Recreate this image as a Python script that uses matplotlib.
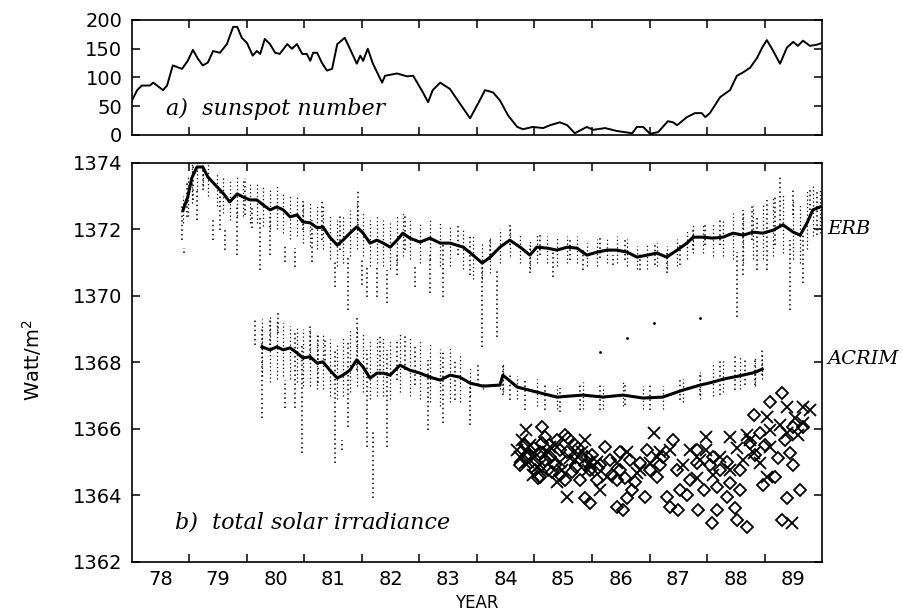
import matplotlib
matplotlib.use('Agg')
import matplotlib.pyplot as plt
import matplotlib.transforms as mtransforms

# a) sunspot number (smoothed)
ssn_year = [78.0, 78.09, 78.17, 78.31, 78.37, 78.54, 78.61, 78.71, 78.87, 78.97,
            79.06, 79.15, 79.23, 79.32, 79.41, 79.53, 79.65, 79.76, 79.83, 79.91,
            80.00, 80.10, 80.17, 80.23, 80.31, 80.40, 80.49, 80.57, 80.70, 80.78,
            80.87, 80.96, 81.04, 81.10, 81.15, 81.22, 81.30, 81.39, 81.48, 81.57,
            81.70, 81.79, 81.91, 81.97, 82.02, 82.10, 82.19, 82.35, 82.40, 82.61,
            82.78, 82.89, 83.06, 83.15, 83.23, 83.36, 83.53, 83.70, 83.88, 84.02,
            84.14, 84.28, 84.40, 84.54, 84.70, 84.80, 84.97, 85.15, 85.27, 85.44,
            85.57, 85.70, 85.91, 86.02, 86.23, 86.43, 86.70, 86.78, 86.89, 87.01,
            87.15, 87.32, 87.41, 87.48, 87.65, 87.79, 87.91, 87.97, 88.05, 88.23,
            88.40, 88.52, 88.63, 88.75, 88.87, 88.96, 89.04, 89.13, 89.27, 89.39,
            89.50, 89.58, 89.67, 89.79, 89.91, 90.0]
ssn_val = [60, 78, 86, 86, 91, 78, 86, 121, 115, 129,
           148, 132, 121, 126, 146, 143, 158, 188, 188, 169,
           160, 138, 146, 141, 167, 158, 143, 141, 158, 150,
           158, 141, 141, 129, 143, 143, 126, 112, 115, 158,
           169, 150, 124, 138, 129, 150, 124, 91, 103, 107,
           102, 103, 74, 57, 78, 91, 80, 55, 29, 55,
           78, 74, 60, 34, 14, 10, 14, 12, 17, 22,
           17, 3, 14, 9, 12, 7, 3, 14, 14, 2,
           5, 24, 22, 17, 31, 38, 38, 31, 38, 66,
           78, 103, 109, 117, 134, 152, 165, 150, 124, 152,
           162, 155, 164, 155, 157, 160]

# b) ERB smoothed, with the envelope of the daily values around it
erb_year = [78.89, 78.97, 79.04, 79.13, 79.23, 79.32, 79.48, 79.58, 79.70, 79.83,
            79.93, 80.05, 80.17, 80.28, 80.40, 80.52, 80.63, 80.75, 80.87, 80.97,
            81.10, 81.22, 81.32, 81.44, 81.57, 81.67, 81.79, 81.91, 82.02, 82.14,
            82.26, 82.37, 82.49, 82.61, 82.71, 82.83, 83.01, 83.18, 83.36, 83.53,
            83.76, 83.93, 84.09, 84.23, 84.40, 84.57, 84.75, 84.92, 85.04, 85.22,
            85.39, 85.57, 85.74, 85.91, 86.09, 86.26, 86.43, 86.61, 86.78, 86.96,
            87.13, 87.30, 87.48, 87.65, 87.76, 87.93, 88.10, 88.28, 88.45, 88.63,
            88.80, 88.97, 89.15, 89.32, 89.50, 89.62, 89.74, 89.84, 89.97]
erb_val = [1372.59, 1372.98, 1373.55, 1373.88, 1373.88, 1373.58, 1373.28, 1373.10, 1372.83, 1373.07,
           1372.98, 1372.89, 1372.89, 1372.74, 1372.59, 1372.68, 1372.59, 1372.38, 1372.44, 1372.23,
           1372.20, 1372.05, 1372.08, 1371.77, 1371.53, 1371.68, 1371.89, 1372.08, 1371.89, 1371.59,
           1371.68, 1371.59, 1371.47, 1371.68, 1371.89, 1371.74, 1371.62, 1371.74, 1371.59, 1371.59,
           1371.47, 1371.23, 1370.99, 1371.17, 1371.47, 1371.68, 1371.47, 1371.23, 1371.47, 1371.44,
           1371.38, 1371.47, 1371.44, 1371.23, 1371.32, 1371.38, 1371.38, 1371.32, 1371.17, 1371.23,
           1371.29, 1371.17, 1371.38, 1371.59, 1371.77, 1371.77, 1371.74, 1371.77, 1371.89, 1371.83,
           1371.92, 1371.89, 1371.98, 1372.14, 1371.92, 1371.83, 1372.20, 1372.59, 1372.68]
erb_band_hi = [1373.0, 1373.6, 1374.0, 1374.0, 1374.0, 1374.0, 1373.7, 1373.6, 1373.5, 1373.6,
               1373.5, 1373.4, 1373.4, 1373.3, 1373.2, 1373.3, 1373.1, 1373.0, 1373.0, 1372.8,
               1372.8, 1372.7, 1372.7, 1372.4, 1372.3, 1372.4, 1372.6, 1372.8, 1372.5, 1372.3,
               1372.4, 1372.3, 1372.2, 1372.4, 1372.5, 1372.3, 1372.2, 1372.3, 1372.2, 1372.1,
               1372.0, 1371.8, 1371.6, 1371.8, 1372.0, 1372.1, 1371.9, 1371.7, 1371.9, 1371.8,
               1371.8, 1371.8, 1371.8, 1371.6, 1371.7, 1371.7, 1371.8, 1371.7, 1371.5, 1371.6,
               1371.6, 1371.5, 1371.7, 1372.0, 1372.2, 1372.2, 1372.2, 1372.3, 1372.5, 1372.6,
               1372.7, 1372.8, 1373.0, 1373.1, 1372.9, 1372.8, 1373.2, 1373.3, 1373.2]
erb_band_lo = [1372.2, 1372.4, 1372.8, 1373.2, 1373.3, 1373.0, 1372.7, 1372.5, 1372.3, 1372.4,
               1372.4, 1372.2, 1372.2, 1372.1, 1372.0, 1372.0, 1371.9, 1371.7, 1371.8, 1371.6,
               1371.5, 1371.4, 1371.4, 1371.1, 1370.9, 1371.0, 1371.2, 1371.4, 1371.2, 1370.9,
               1371.0, 1370.9, 1370.8, 1371.0, 1371.2, 1371.1, 1371.0, 1371.1, 1370.9, 1370.9,
               1370.8, 1370.5, 1370.5, 1370.7, 1371.0, 1371.2, 1371.0, 1370.8, 1371.0, 1371.0,
               1370.9, 1371.0, 1371.0, 1370.9, 1370.9, 1371.0, 1371.0, 1370.9, 1370.8, 1370.8,
               1370.9, 1370.8, 1370.9, 1371.1, 1371.3, 1371.3, 1371.2, 1371.2, 1371.1, 1371.0,
               1371.1, 1371.1, 1371.2, 1371.3, 1371.1, 1371.0, 1371.4, 1371.8, 1371.9]

# ERB dips and spikes (year, top, bottom)
erb_dot_year = [78.87, 78.90, 78.96, 79.06, 79.13, 79.23, 79.41, 79.53, 79.62, 79.83,
                79.97, 80.09, 80.23, 80.40, 80.66, 80.83, 80.97, 81.13, 81.30, 81.53,
                81.62, 81.76, 81.93, 82.00, 82.09, 82.26, 82.43, 82.61, 82.75, 82.92,
                83.18, 83.41, 83.67, 83.88, 84.09, 84.23, 84.35, 84.57, 84.92, 85.10,
                85.32, 85.62, 85.84, 86.14, 86.37, 86.58, 86.83, 87.10, 87.30, 87.53,
                87.76, 87.97, 88.23, 88.52, 88.63, 88.78, 88.87, 89.04, 89.18, 89.27,
                89.44, 89.50, 89.67, 89.79, 89.91]
erb_dot_hi = [1372.74, 1371.44, 1373.40, 1373.94, 1373.19, 1373.94, 1372.35, 1373.19, 1372.05, 1372.74,
              1373.55, 1372.74, 1372.44, 1372.44, 1371.53, 1371.44, 1372.89, 1372.29, 1372.89, 1371.08,
              1372.44, 1371.14, 1373.19, 1371.08, 1370.93, 1370.93, 1370.78, 1371.23, 1372.44, 1370.93,
              1371.23, 1371.53, 1372.14, 1371.83, 1370.93, 1371.68, 1370.78, 1372.14, 1371.53, 1371.83,
              1371.38, 1371.68, 1371.38, 1371.74, 1371.23, 1371.68, 1371.29, 1371.53, 1371.38, 1371.53,
              1372.05, 1372.14, 1372.35, 1371.32, 1372.59, 1372.74, 1372.44, 1372.89, 1373.04, 1373.58,
              1371.68, 1373.19, 1371.83, 1373.19, 1373.19]
erb_dot_lo = [1371.68, 1371.29, 1372.38, 1372.89, 1372.29, 1373.19, 1371.68, 1371.98, 1371.38, 1371.23,
              1372.44, 1372.05, 1370.78, 1371.23, 1371.02, 1370.87, 1371.98, 1371.02, 1371.68, 1370.27,
              1371.38, 1369.58, 1371.98, 1370.33, 1369.97, 1369.97, 1369.79, 1370.63, 1371.38, 1370.27,
              1370.09, 1369.97, 1371.23, 1370.63, 1368.47, 1371.08, 1368.77, 1371.53, 1370.69, 1371.23,
              1370.57, 1371.08, 1370.78, 1371.14, 1370.93, 1371.08, 1370.78, 1370.93, 1370.69, 1370.93,
              1371.38, 1371.53, 1371.53, 1369.37, 1370.63, 1371.68, 1370.78, 1370.78, 1371.53, 1372.14,
              1369.58, 1372.44, 1370.39, 1372.59, 1371.83]

# ACRIM smoothed, with envelope
acrim_year = [80.26, 80.40, 80.52, 80.63, 80.75, 80.87, 80.97, 81.10, 81.22, 81.32,
              81.44, 81.57, 81.67, 81.79, 81.91, 82.02, 82.14, 82.26, 82.37, 82.49,
              82.66, 82.83, 83.01, 83.18, 83.36, 83.53, 83.70, 83.88, 84.10, 84.40,
              84.45, 84.70, 85.04, 85.39, 85.84, 86.19, 86.54, 86.89, 87.23, 87.58,
              87.88, 88.10, 88.28, 88.57, 88.83, 88.96]
acrim_val = [1368.47, 1368.38, 1368.47, 1368.38, 1368.44, 1368.29, 1368.14, 1368.17, 1367.98, 1368.02,
             1367.77, 1367.53, 1367.62, 1367.77, 1368.08, 1367.86, 1367.53, 1367.68, 1367.68, 1367.62,
             1367.92, 1367.77, 1367.68, 1367.56, 1367.47, 1367.62, 1367.56, 1367.38, 1367.29, 1367.32,
             1367.62, 1367.26, 1367.11, 1366.96, 1367.02, 1366.96, 1367.02, 1366.93, 1366.96, 1367.17,
             1367.32, 1367.41, 1367.50, 1367.60, 1367.70, 1367.80]
acrim_band_hi = [1369.3, 1369.4, 1369.3, 1369.2, 1369.1, 1369.1, 1369.0, 1369.0, 1368.9, 1368.9,
                 1368.7, 1368.6, 1368.8, 1369.0, 1369.1, 1368.9, 1368.7, 1368.8, 1368.8, 1368.7,
                 1368.9, 1368.8, 1368.7, 1368.6, 1368.4, 1368.5, 1368.3, 1367.9, 1367.4, 1367.5,
                 1368.0, 1367.6, 1367.5, 1367.3, 1367.4, 1367.3, 1367.4, 1367.3, 1367.3, 1367.5,
                 1367.7, 1368.0, 1368.1, 1368.2, 1368.2, 1368.3]
acrim_band_lo = [1367.6, 1367.4, 1367.5, 1367.6, 1367.5, 1367.4, 1367.3, 1367.3, 1367.2, 1367.2,
                 1367.0, 1366.9, 1367.0, 1367.1, 1367.3, 1367.1, 1366.9, 1367.0, 1367.0, 1366.9,
                 1367.1, 1367.0, 1366.9, 1366.8, 1366.7, 1366.8, 1366.8, 1367.0, 1367.2, 1367.2,
                 1367.1, 1366.9, 1366.7, 1366.6, 1366.6, 1366.6, 1366.7, 1366.6, 1366.6, 1366.8,
                 1366.9, 1367.0, 1367.1, 1367.2, 1367.3, 1367.5]

# ACRIM dips and spikes
acrim_dot_year = [80.14, 80.26, 80.40, 80.54, 80.66, 80.83, 80.96, 81.10, 81.23, 81.36,
                  81.53, 81.65, 81.76, 81.91, 82.09, 82.19, 82.31, 82.43, 82.61, 82.75,
                  82.92, 83.15, 83.41, 83.62, 83.88, 84.02, 84.45, 84.57, 84.83, 85.18,
                  85.44, 85.79, 86.14, 86.57, 87.01, 87.53, 87.88, 88.23, 88.49, 88.66,
                  88.83, 88.96]
acrim_dot_hi = [1369.28, 1369.07, 1369.28, 1369.49, 1367.47, 1368.98, 1368.53, 1369.13, 1368.83, 1368.68,
                1368.38, 1365.67, 1368.68, 1369.34, 1368.38, 1365.97, 1368.83, 1368.38, 1368.68, 1368.83,
                1368.53, 1368.08, 1368.38, 1368.08, 1367.32, 1367.92, 1367.92, 1367.62, 1367.47, 1367.32,
                1367.23, 1367.32, 1367.32, 1367.32, 1367.32, 1367.53, 1367.71, 1368.08, 1368.23, 1368.14,
                1368.08, 1368.38]
acrim_dot_lo = [1368.53, 1366.33, 1368.53, 1368.89, 1366.63, 1366.63, 1365.28, 1368.08, 1367.38, 1367.92,
                1364.98, 1365.37, 1366.06, 1367.77, 1365.46, 1363.92, 1367.62, 1365.46, 1367.47, 1367.77,
                1367.32, 1365.97, 1366.18, 1366.87, 1366.12, 1367.32, 1367.02, 1366.87, 1366.57, 1366.57,
                1366.51, 1366.57, 1366.57, 1366.72, 1366.57, 1366.87, 1367.02, 1367.02, 1367.17, 1367.32,
                1367.32, 1367.62]

# stray single points
stray_year = [86.14, 86.61, 87.08, 87.88]
stray_val = [1368.32, 1368.74, 1369.19, 1369.34]

# diamonds
dia_year = [85.13, 85.18, 85.13, 85.39, 85.53, 85.59, 86.23, 85.56, 85.76, 86.49,
            85.10, 85.24, 85.44, 85.88, 85.97, 86.43, 86.54, 86.60, 86.69, 86.92,
            87.30, 87.36, 87.50, 87.53, 87.65, 87.85, 88.08, 88.17, 88.34, 88.49,
            88.52, 88.69, 88.57, 88.40, 88.17, 87.94, 87.41, 87.82, 88.11, 88.34,
            88.57, 88.98, 89.24, 89.44, 89.50, 89.39, 89.62, 89.30, 89.30, 89.10,
            88.81, 89.67, 89.50, 89.18, 86.83, 87.01, 86.31, 86.08, 86.43, 87.13,
            87.47, 88.75, 88.92, 87.70, 87.82, 86.95, 87.24, 85.91, 85.73, 85.27,
            84.83, 84.92, 85.01, 85.18, 85.36, 85.44, 85.70, 85.97, 86.14, 86.49,
            86.66, 85.79, 87.18, 88.05, 88.23, 88.83, 89.01, 89.36, 85.10, 86.00,
            84.75, 84.87, 84.99, 85.06, 85.30, 85.53, 85.65, 85.88, 86.10, 86.35,
            86.57, 86.75]
dia_val = [1366.07, 1365.77, 1365.57, 1365.67, 1365.82, 1365.72, 1365.47, 1365.32, 1365.42, 1365.32,
           1364.57, 1364.77, 1364.62, 1363.92, 1363.77, 1363.66, 1363.56, 1363.92, 1364.17, 1363.96,
           1363.96, 1363.66, 1363.56, 1364.17, 1364.02, 1363.56, 1363.16, 1363.56, 1363.96, 1363.62,
           1363.26, 1363.06, 1364.17, 1364.37, 1364.26, 1364.17, 1365.67, 1365.37, 1365.17, 1365.02,
           1364.77, 1364.32, 1365.12, 1365.27, 1364.92, 1363.92, 1364.17, 1363.26, 1367.07, 1366.82,
           1366.42, 1366.07, 1366.07, 1364.57, 1364.97, 1364.77, 1365.07, 1364.47, 1364.47, 1364.57,
           1364.77, 1365.57, 1365.87, 1364.47, 1364.97, 1365.37, 1365.17, 1365.17, 1364.87, 1365.17,
           1365.52, 1365.22, 1364.77, 1365.07, 1364.92, 1365.37, 1365.52, 1364.77, 1364.92, 1364.77,
           1365.07, 1364.47, 1364.92, 1364.92, 1364.77, 1365.22, 1365.52, 1365.67, 1365.31, 1365.22,
           1364.92, 1365.13, 1365.43, 1364.53, 1364.71, 1364.47, 1364.71, 1364.92, 1364.83, 1364.62,
           1364.53, 1364.41]

# crosses
crs_year = [84.86, 84.86, 84.83, 85.04, 85.39, 85.56, 85.88, 85.76, 85.27, 85.01,
            87.07, 86.60, 86.08, 86.26, 86.78, 87.01, 87.36, 87.59, 87.70, 87.99,
            87.99, 87.82, 88.11, 88.40, 88.52, 88.40, 88.69, 88.81, 89.04, 89.10,
            89.39, 89.67, 89.67, 89.59, 89.39, 89.10, 88.92, 89.47, 87.13, 86.14,
            86.43, 88.23, 88.63, 89.04, 84.75, 84.92, 85.18, 85.44, 85.62, 85.97,
            86.83, 87.18, 87.88, 88.75, 89.27, 89.53, 89.79, 84.70, 84.78, 84.89,
            84.97, 85.10, 85.24, 85.36, 85.48, 85.70, 85.83, 85.93]
crs_val = [1365.97, 1365.37, 1364.97, 1364.87, 1364.42, 1363.96, 1365.67, 1365.17, 1365.47, 1365.17,
           1365.87, 1365.32, 1365.02, 1364.57, 1364.67, 1364.97, 1365.37, 1364.92, 1365.37, 1365.77,
           1365.37, 1364.52, 1364.62, 1365.77, 1365.42, 1364.77, 1365.82, 1365.27, 1366.37, 1365.97,
           1366.67, 1366.67, 1366.17, 1365.82, 1365.87, 1365.47, 1364.97, 1363.16, 1365.17, 1364.17,
           1364.97, 1365.17, 1365.07, 1364.57, 1365.17, 1365.52, 1365.22, 1365.01, 1365.13, 1365.01,
           1364.77, 1365.31, 1365.07, 1365.67, 1366.12, 1366.33, 1366.57, 1365.37, 1365.67, 1365.01,
           1364.62, 1364.92, 1365.31, 1365.52, 1364.77, 1365.07, 1365.31, 1364.77]

year_labels = ['78', '79', '80', '81', '82', '83', '84', '85', '86', '87', '88', '89']

plt.rcParams['font.family'] = 'DejaVu Sans'
serif_it = dict(family='DejaVu Serif', style='italic')
dots = (0, (1, 2))

fig = plt.figure(figsize=(9.04, 6.13), dpi=100)
ax1 = fig.add_axes([0.146, 0.7798, 0.7633, 0.1876])
ax2 = fig.add_axes([0.146, 0.0832, 0.7633, 0.6509])

# top panel
ax1.plot(ssn_year, ssn_val, color='k', lw=1.4)
ax1.set_xlim(78, 90)
ax1.set_ylim(0, 200)
ax1.set_yticks([0, 50, 100, 150, 200])
ax1.set_xticks(range(79, 90))
ax1.set_xticklabels([])
ax1.text(78.6, 45, 'a)  sunspot number', fontsize=16, va='center', **serif_it)

# bottom panel
ax2.vlines(erb_year, erb_band_lo, erb_band_hi, colors='k', lw=0.9, linestyles=dots)
ax2.vlines(acrim_year, acrim_band_lo, acrim_band_hi, colors='k', lw=0.9, linestyles=dots)
ax2.vlines(erb_dot_year, erb_dot_lo, erb_dot_hi, colors='k', lw=1.1, linestyles=dots)
ax2.vlines(acrim_dot_year, acrim_dot_lo, acrim_dot_hi, colors='k', lw=1.1, linestyles=dots)
ax2.plot(stray_year, stray_val, 'k.', ms=2)
ax2.plot(erb_year, erb_val, color='k', lw=2.2)
ax2.plot(acrim_year, acrim_val, color='k', lw=2.2)
ax2.plot(dia_year, dia_val, 'D', ms=6, mfc='none', mec='k', mew=1.3)
ax2.plot(crs_year, crs_val, 'x', ms=9, mec='k', mew=1.3)
ax2.set_xlim(78, 90)
ax2.set_ylim(1362, 1374)
ax2.set_yticks(range(1362, 1375, 2))
ax2.set_xticks(range(79, 90))
ax2.set_xticklabels([])
ax2.set_xticks([y + 0.5 for y in range(78, 90)], minor=True)
ax2.set_xticklabels(year_labels, minor=True)
ax2.text(78.75, 1363.2, 'b)  total solar irradiance', fontsize=16, va='center', **serif_it)

trans = mtransforms.blended_transform_factory(ax2.transAxes, ax2.transData)
ax2.text(1.008, 1372.0, 'ERB', transform=trans, fontsize=14, va='center', **serif_it)
ax2.text(1.008, 1368.1, 'ACRIM', transform=trans, fontsize=14, va='center', **serif_it)

for ax in (ax1, ax2):
    for s in ax.spines.values():
        s.set_linewidth(1.2)
    ax.tick_params(which='major', direction='in', length=6, width=1.1,
                   top=True, right=True, labelsize=14, pad=7)
ax2.tick_params(which='minor', length=0, labelsize=14, pad=6)

fig.text(0.035, 0.413, 'Watt/m$^2$', rotation=90, fontsize=14, va='center', ha='center')
fig.text(0.527, 0.016, 'YEAR', fontsize=12, ha='center', va='center')

fig.savefig('out.png', dpi=100)
